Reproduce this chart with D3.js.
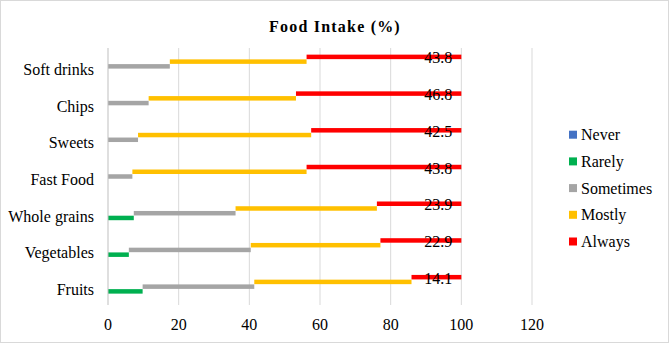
<!DOCTYPE html>
<html>
<head>
<meta charset="utf-8">
<script src="https://cdn.jsdelivr.net/npm/d3@7"></script>
<style>
  body { margin: 0; background: #fff; }
  svg text { font-family: "Liberation Serif", "Times New Roman", serif; fill: #000; }
</style>
</head>
<body>
<div id="chart"></div>
<script>
// data
const categories = ["Soft drinks", "Chips", "Sweets", "Fast Food", "Whole grains", "Vegetables", "Fruits"];
const seriesNames = ["Never", "Rarely", "Sometimes", "Mostly", "Always"];
const never = [0, 0, 0, 0, 0, 0, 0];
const rarely = [0, 0, 0, 0, 7.3, 5.9, 9.8];
const sometimes = [17.5, 11.5, 8.5, 6.9, 28.8, 34.5, 31.6];
const mostly = [38.7, 41.7, 49.0, 49.3, 40.0, 36.7, 44.5];
const always = [43.8, 46.8, 42.5, 43.8, 23.9, 22.9, 14.1];
const xTicks = [0, 20, 40, 60, 80, 100, 120];
const colors = ["#4472C4", "#00B050", "#A5A5A5", "#FFC000", "#FF0000"];

const width = 669, height = 343;
const margin = {top: 48, right: 137, bottom: 38, left: 108};

let rows = categories.map((c, i) => ({
    cat: c,
    Never: never[i], Rarely: rarely[i], Sometimes: sometimes[i], Mostly: mostly[i], Always: always[i]
}));

let stacked = d3.stack().keys(seriesNames)(rows);

let svg = d3.select("#chart").append("svg")
    .attr("width", width)
    .attr("height", height);

svg.append("rect")
    .attr("x", 0.5).attr("y", 0.5)
    .attr("width", width - 1).attr("height", height - 1)
    .attr("fill", "#fff").attr("stroke", "#d9d9d9");

let x = d3.scaleLinear().domain([0, 120]).range([margin.left, width - margin.right]);
let y0 = d3.scaleBand().domain(categories).range([margin.top, height - margin.bottom]);
// each series sits on its own sub-row: Always on top, Never at the bottom
let y1 = d3.scaleBand().domain(seriesNames.slice().reverse())
    .range([0, y0.bandwidth()]).paddingOuter(1.4).paddingInner(0.05);

// title
svg.append("text")
    .attr("x", 335).attr("y", 32)
    .attr("text-anchor", "middle")
    .style("font-size", "16px").style("font-weight", "bold")
    .style("letter-spacing", "1.2px")
    .text("Food Intake (%)");

// gridlines
svg.append("g").selectAll("line")
    .data(xTicks.slice(1))
    .join("line")
    .attr("x1", d => x(d)).attr("x2", d => x(d))
    .attr("y1", margin.top).attr("y2", height - margin.bottom)
    .attr("stroke", "#d9d9d9");

// bars
svg.append("g").selectAll("g")
    .data(stacked)
    .join("g")
    .attr("fill", (d, i) => colors[i])
    .selectAll("rect")
    .data(d => d.map(v => ({key: d.key, v: v})))
    .join("rect")
    .attr("x", d => x(d.v[0]))
    .attr("y", d => y0(d.v.data.cat) + y1(d.key))
    .attr("width", d => x(d.v[1]) - x(d.v[0]))
    .attr("height", y1.bandwidth());

// vertical axis line
svg.append("line")
    .attr("x1", x(0)).attr("x2", x(0))
    .attr("y1", margin.top).attr("y2", height - margin.bottom)
    .attr("stroke", "#bfbfbf");

// data labels for Always
let alwaysLayer = stacked[4];
svg.append("g").selectAll("text")
    .data(alwaysLayer)
    .join("text")
    .attr("x", d => x(d[1]) - 9)
    .attr("y", d => y0(d.data.cat) + y1("Always") + y1.bandwidth() / 2 + 1)
    .attr("text-anchor", "end")
    .attr("dominant-baseline", "central")
    .style("font-size", "16px")
    .text(d => d3.format(".1f")(d.data.Always));

// category labels
svg.append("g").selectAll("text")
    .data(categories)
    .join("text")
    .attr("x", x(0) - 14)
    .attr("y", d => y0(d) + y0.bandwidth() / 2 + 3)
    .attr("text-anchor", "end")
    .attr("dominant-baseline", "central")
    .style("font-size", "16px")
    .text(d => d);

// x tick labels
svg.append("g").selectAll("text")
    .data(xTicks)
    .join("text")
    .attr("x", d => x(d))
    .attr("y", 324)
    .attr("text-anchor", "middle")
    .attr("dominant-baseline", "central")
    .style("font-size", "16px")
    .text(d => d);

// legend
let legend = svg.append("g").selectAll("g")
    .data(seriesNames)
    .join("g")
    .attr("transform", (d, i) => `translate(569, ${134.7 + i * 26.7})`);

legend.append("rect")
    .attr("x", 0).attr("y", -4)
    .attr("width", 8).attr("height", 8)
    .attr("fill", (d, i) => colors[i]);

legend.append("text")
    .attr("x", 12).attr("y", 0)
    .attr("dominant-baseline", "central")
    .style("font-size", "16px")
    .text(d => d);
</script>
</body>
</html>
